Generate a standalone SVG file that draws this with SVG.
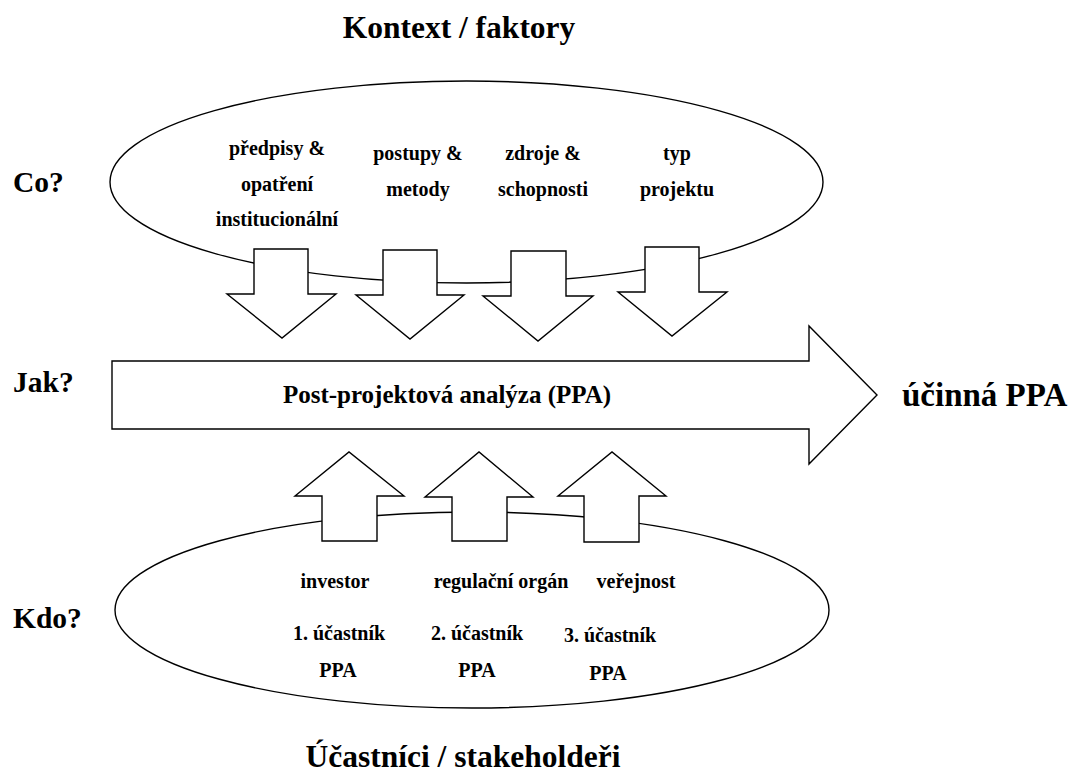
<svg xmlns="http://www.w3.org/2000/svg" width="1075" height="775" viewBox="0 0 1075 775">
<style>
.sh{fill:#fff;stroke:#000;stroke-width:1.4;stroke-linejoin:miter}
.el{fill:none;stroke:#000;stroke-width:1.4}
.tx{font-family:'Liberation Serif','Tinos','DejaVu Serif',serif;font-weight:bold;fill:#000;text-anchor:middle}
.t{font-size:31.5px}
.q{font-size:29.5px;text-anchor:start}
.l{font-size:20px}
.m{font-size:25px}
.r{font-size:33px;text-anchor:start}
</style>
<rect width="1075" height="775" fill="#fff"/>
<g id="context" class="tx" font-family="Liberation Serif, serif">
<text class="t" x="459" y="38">Kontext / faktory</text>
<ellipse class="el" cx="466.5" cy="182" rx="356.5" ry="101"/>
<text class="l" x="277" y="155">předpisy &amp;</text>
<text class="l" x="277" y="191">opatření</text>
<text class="l" x="277" y="226">institucionální</text>
<text class="l" x="418" y="160">postupy &amp;</text>
<text class="l" x="418" y="196">metody</text>
<text class="l" x="543" y="160">zdroje &amp;</text>
<text class="l" x="543" y="196">schopnosti</text>
<text class="l" x="677" y="160">typ</text>
<text class="l" x="677" y="196">projektu</text>
</g>
<g id="labels" class="tx" font-family="Liberation Serif, serif">
<text class="q" x="13" y="192">Co?</text>
<text class="q" x="13" y="392">Jak?</text>
<text class="q" x="13" y="628">Kdo?</text>
</g>
<g id="stakeholders" class="tx" font-family="Liberation Serif, serif">
<ellipse class="el" cx="472" cy="610" rx="357" ry="98"/>
<text class="l" x="335" y="588">investor</text>
<text class="l" x="501" y="588">regulační orgán</text>
<text class="l" x="636" y="588">veřejnost</text>
<text class="l" x="339" y="640">1. účastník</text>
<text class="l" x="338" y="677">PPA</text>
<text class="l" x="477" y="640">2. účastník</text>
<text class="l" x="477" y="677">PPA</text>
<text class="l" x="610" y="642">3. účastník</text>
<text class="l" x="608" y="680">PPA</text>
<text class="t" x="463" y="767">Účastníci / stakeholdeři</text>
</g>
<g id="connectors">
<polygon class="sh" points="254,249 308,249 308,294 336,294 282,338 227,294 254,294"/>
<polygon class="sh" points="383,250 437,250 437,295 464,295 410,339 356,295 383,295"/>
<polygon class="sh" points="511,251 566,251 566,296 593,296 538,341 483,296 511,296"/>
<polygon class="sh" points="645,247 699,247 699,292 727,292 672,336 618,292 645,292"/>
<polygon class="sh" points="322,541 377,541 377,496 404,496 349,452 295,496 322,496"/>
<polygon class="sh" points="452,541 507,541 507,497 533,497 479,452 425,497 452,497"/>
<polygon class="sh" points="584,542 639,542 639,496 666,496 612,452 558,496 584,496"/>
</g>
<g id="ppa" class="tx" font-family="Liberation Serif, serif">
<polygon class="sh" points="112,361 809,361 809,326 877,395 809,464 809,429 112,429"/>
<text class="m" x="447" y="403">Post-projektová analýza (PPA)</text>
</g>
<g id="result" class="tx" font-family="Liberation Serif, serif">
<text class="r" x="902" y="406">účinná PPA</text>
</g>
</svg>
